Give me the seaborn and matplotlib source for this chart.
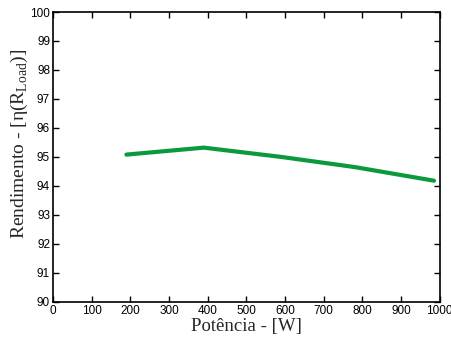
import pandas as pd
import matplotlib
matplotlib.use("Agg")
import matplotlib.pyplot as plt
import seaborn as sns

# values
potencia = [190, 390, 590, 780, 985]
rendimento = [95.08, 95.32, 95.0, 94.65, 94.18]

df = pd.DataFrame({"Potencia": potencia, "Rendimento": rendimento})

sns.set_theme(style="ticks")
plt.rcParams["font.family"] = ["Liberation Sans", "DejaVu Sans"]

fig, ax = plt.subplots(figsize=(4.52, 3.43), dpi=100)
fig.subplots_adjust(left=0.117, right=0.973, top=0.965, bottom=0.12)

sns.lineplot(data=df, x="Potencia", y="Rendimento", ax=ax, color="#0a9a3c", linewidth=3)

ax.set_xlim(0, 1000)
ax.set_ylim(90, 100)
ax.set_xticks(range(0, 1001, 100))
ax.set_yticks(range(90, 101, 1))
ax.tick_params(direction="in", top=True, right=True, labelsize=8.5, length=4, width=1, pad=2, colors="black")
for s in ax.spines.values():
    s.set_linewidth(1.2)
    s.set_color("black")

ax.set_xlabel("Potência - [W]", family="Liberation Serif", fontsize=13.5, labelpad=1)
ax.set_ylabel(r"Rendimento - [η(R$_{\mathregular{Load}}$)]", family="Liberation Serif", fontsize=14, labelpad=0)
ax.yaxis.set_label_coords(-0.058, 0.545)

plt.savefig("out.png", dpi=100)
